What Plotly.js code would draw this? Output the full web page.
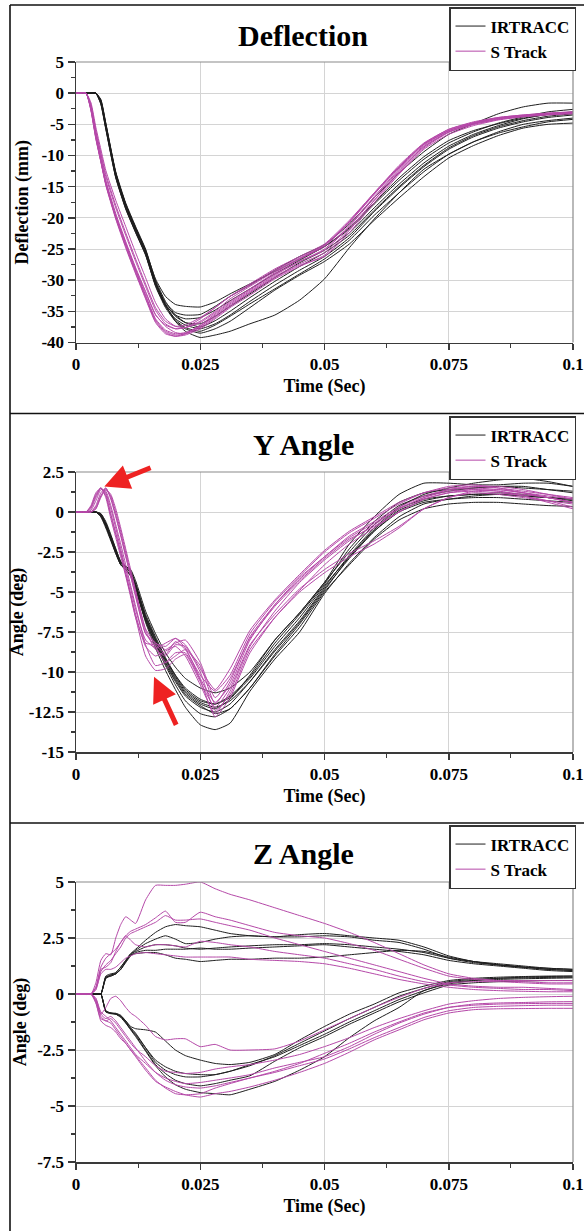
<!DOCTYPE html>
<html>
<head>
<meta charset="utf-8">
<script src="https://cdn.plot.ly/plotly-3.0.1.min.js"></script>
<style>
html,body{margin:0;padding:0;background:#fff;}
#chart{width:584px;height:1231px;}
</style>
</head>
<body>
<div id="chart"></div>
<script>
// ---------------- DATA ----------------
const SERIES_NAMES = ['IRTRACC', 'S Track'];
const PANEL_TITLES = ['Deflection', 'Y Angle', 'Z Angle'];
const Y_TITLES = ['Deflection (mm)', 'Angle (deg)', 'Angle (deg)'];
const X_TITLE = 'Time (Sec)';

const X_TICKS = [0, 0.025, 0.05, 0.075, 0.1];
const X_TICK_LABELS = ['0', '0.025', '0.05', '0.075', '0.1'];
const Y_TICKS_DEFL = [5, 0, -5, -10, -15, -20, -25, -30, -35, -40];
const Y_TICK_LABELS_DEFL = ['5', '0', '-5', '-10', '-15', '-20', '-25', '-30', '-35', '-40'];
const Y_TICKS_YANG = [2.5, 0, -2.5, -5, -7.5, -10, -12.5, -15];
const Y_TICK_LABELS_YANG = ['2.5', '0', '-2.5', '-5', '-7.5', '-10', '-12.5', '-15'];
const Y_TICKS_ZANG = [5, 2.5, 0, -2.5, -5, -7.5];
const Y_TICK_LABELS_ZANG = ['5', '2.5', '0', '-2.5', '-5', '-7.5'];

// Deflection (mm)
const TIME_DEFL = [0,0.002,0.003,0.004,0.005,0.006,0.008,0.010,0.012,0.014,0.016,0.018,0.020,0.022,0.025,0.028,0.031,0.035,0.040,0.045,0.050,0.055,0.060,0.065,0.070,0.075,0.080,0.085,0.090,0.095,0.100];
const deflIrtracc = [
  [0,0,0,0,-1.2,-5,-12.8,-17.8,-21.6,-25.2,-29.8,-32.6,-33.9,-34.2,-34.3,-33.5,-32.2,-30.6,-28.6,-26.6,-24.6,-21.6,-17.6,-13.6,-10.2,-7.6,-6,-4.9,-4,-3.4,-3.1],
  [0,0,0,0,-1.5,-5.4,-13.2,-18.2,-22,-25.6,-30.4,-33.6,-35.2,-35.6,-35.5,-34.2,-32.6,-30.8,-28.4,-26.2,-24.3,-21,-16.8,-12.8,-9.4,-6.6,-4.9,-3.3,-2.2,-1.6,-1.6],
  [0,0,0,0,-1.8,-5.8,-13.6,-18.6,-22.4,-26,-30.8,-34,-35.6,-36.2,-36,-34.8,-33.3,-31.4,-29,-26.8,-24.6,-21.8,-17.8,-14,-10.6,-8,-6.2,-4.8,-3.8,-3,-2.6],
  [0,0,0,0,-1.4,-5.2,-13,-18,-21.8,-25.4,-30.4,-33.8,-35.8,-36.8,-37,-35.8,-34.2,-32.2,-29.6,-27.2,-25.2,-22.4,-18.4,-14.6,-11.2,-8.5,-6.6,-5.2,-4.1,-3.4,-3],
  [0,0,0,0,-1,-4.8,-12.6,-17.6,-21.4,-25,-30,-33.4,-35.6,-36.8,-37.5,-36.5,-35,-32.8,-30.2,-27.8,-25.6,-22.8,-18.8,-15,-11.6,-8.8,-6.8,-5.4,-4.4,-3.7,-3.3],
  [0,0,0,0,-1.6,-5.6,-13.4,-18.4,-22.2,-25.8,-30.8,-34.2,-36.2,-37.2,-37.8,-37,-35.6,-33.4,-30.8,-28.4,-26.2,-23.2,-19,-15.2,-11.8,-9,-7,-5.6,-4.6,-3.9,-3.5],
  [0,0,0,0,-1.3,-5.2,-13,-18,-21.8,-25.4,-30.4,-34,-36.4,-37.6,-38.2,-37.2,-35.8,-33.8,-31.4,-29,-26.6,-23.6,-19.6,-16,-12.6,-9.8,-7.8,-6.2,-5,-4.4,-4],
  [0,0,0,0,-1.7,-5.7,-13.5,-18.5,-22.3,-25.9,-31,-34.4,-36.6,-37.8,-38.5,-37.8,-36.6,-34.4,-31.6,-29.2,-27,-24.2,-20.4,-16.8,-13.4,-10.4,-8.4,-6.8,-5.6,-5,-4.8],
  [0,0,0,0,-1.1,-4.9,-12.8,-17.8,-21.6,-25.2,-30.3,-34,-36.6,-38.2,-39.2,-38.8,-38.2,-37,-35.6,-33.2,-29.8,-24.8,-20.2,-16,-12.2,-9.8,-7.8,-6.4,-5.4,-4.6,-4.2]
];
const deflSTrack = [
  [0,0,-1.8,-6,-9.6,-13,-18,-22.4,-26.6,-30.6,-34.4,-36.6,-37.4,-37.2,-36,-34.4,-32.6,-30.6,-28.2,-26.2,-24.2,-20.4,-16,-11.6,-8,-5.8,-4.6,-3.9,-3.5,-3.2,-3],
  [0,0,-2.8,-7.4,-11,-14.6,-20,-24.4,-28.6,-32.6,-36.4,-38.2,-38.8,-38.6,-37.4,-35.6,-33.8,-31.8,-29.2,-27,-25,-21.2,-16.6,-12.2,-8.4,-6,-4.8,-4,-3.6,-3.3,-3.1],
  [0,0,-2.4,-6.8,-10.5,-14,-19.3,-23.8,-28,-31.8,-35.5,-37.4,-38.4,-38.6,-37.6,-36,-34.2,-32,-29.4,-27.4,-25.6,-21.8,-17.2,-12.8,-8.8,-6.3,-5,-4.2,-3.7,-3.4,-3.2],
  [0,0,-2.2,-6.6,-10.4,-14.2,-19.6,-24,-28.2,-32,-35.6,-37.2,-37.8,-37.6,-36.6,-35,-33,-31,-28.6,-26.6,-24.6,-20.8,-16.2,-12,-8.2,-6,-4.8,-4,-3.6,-3.3,-3.1],
  [0,0,-2.6,-7.2,-11,-14.8,-20.2,-24.8,-29,-33,-36.8,-38.6,-39,-38.6,-37.2,-35.4,-33.6,-31.6,-29,-27,-25.2,-21.4,-16.8,-12.4,-8.6,-6.2,-4.9,-4.1,-3.7,-3.4,-3.2],
  [0,0,-1.5,-5.5,-9,-12.4,-17.2,-21.4,-25.6,-29.6,-33.6,-36.2,-37.4,-37.6,-36.8,-35.2,-33.4,-31.4,-28.8,-26.6,-24.4,-20.6,-16.2,-11.8,-8.1,-5.8,-4.7,-3.9,-3.5,-3.2,-3],
  [0,0,-2.5,-7,-10.8,-14.5,-19.8,-24.2,-28.4,-32.4,-36.2,-38,-38.6,-38.4,-37.4,-35.8,-34,-32,-29.6,-27.6,-26.2,-22.4,-17.6,-13,-9,-6.6,-5.2,-4.3,-3.8,-3.5,-3.3],
  [0,0,-2,-6.2,-9.8,-13.4,-18.4,-22.8,-27,-31,-34.8,-37,-37.8,-37.6,-36.2,-34.4,-32.6,-30.8,-28.4,-26.4,-24.4,-20.6,-16,-11.8,-8.2,-6,-4.8,-4,-3.6,-3.3,-3.1],
  [0,0,-2.7,-7.2,-10.9,-14.6,-20,-24.6,-28.8,-32.8,-36.6,-38.4,-39,-38.8,-37.8,-36.2,-34.4,-32.4,-29.8,-27.8,-26,-22,-17.2,-12.6,-8.6,-6.2,-5,-4.2,-3.7,-3.4,-3.2]
];

// Y Angle (deg)
const TIME_Y = [0,0.002,0.003,0.004,0.005,0.006,0.007,0.008,0.009,0.010,0.011,0.012,0.014,0.016,0.018,0.020,0.022,0.025,0.028,0.031,0.035,0.040,0.045,0.050,0.055,0.060,0.065,0.070,0.075,0.080,0.085,0.090,0.095,0.100];
const yAngleIrtracc = [
  [0,0,0,0,-0.2,-0.8,-1.7,-2.6,-3.3,-3.6,-4.0,-4.8,-6.9,-8.5,-9.9,-11.1,-12.2,-13.3,-13.6,-13.2,-11.2,-9.2,-7.5,-5.1,-3.2,-1.6,-0.3,0.5,0.8,1.0,1.1,1.0,0.9,0.8],
  [0,0,0,0,-0.1,-0.6,-1.4,-2.3,-3.1,-3.4,-3.6,-4.3,-6.2,-7.6,-8.8,-9.7,-10.4,-11.0,-11.3,-11.0,-10.0,-8.0,-6.3,-4.4,-2.5,-0.8,0.4,1.0,1.3,1.5,1.6,1.5,1.4,1.3],
  [0,0,0,0,-0.2,-0.9,-1.7,-2.5,-3.2,-3.5,-3.8,-4.6,-6.6,-8.0,-9.3,-10.4,-11.3,-12.0,-12.3,-11.7,-10.2,-8.0,-6.3,-4.4,-2.0,-0.3,1.1,1.8,1.8,1.7,1.7,1.8,1.8,1.6],
  [0,0,0,0,-0.3,-1.0,-1.8,-2.6,-3.3,-3.6,-3.9,-4.8,-6.8,-8.2,-9.5,-10.6,-11.5,-12.2,-12.5,-12.0,-10.6,-8.6,-6.8,-4.7,-2.7,-1.0,0.3,1.1,1.5,1.8,2.0,2.1,1.9,1.6],
  [0,0,0,0,-0.2,-0.7,-1.5,-2.3,-3.1,-3.4,-3.7,-4.5,-6.5,-7.9,-9.2,-10.2,-11.0,-11.7,-12.0,-11.6,-10.4,-8.4,-6.6,-4.6,-2.8,-1.2,0.1,0.7,1.0,1.1,1.1,1.0,0.9,0.8],
  [0,0,0,0,-0.1,-0.7,-1.5,-2.4,-3.2,-3.5,-3.8,-4.7,-6.7,-8.1,-9.4,-10.5,-11.4,-12.1,-12.6,-12.3,-11.0,-9.0,-7.2,-5.0,-3.3,-1.7,-0.5,0.2,0.5,0.6,0.6,0.5,0.4,0.35],
  [0,0,0,0,-0.3,-0.9,-1.7,-2.5,-3.2,-3.5,-3.8,-4.6,-6.6,-8.0,-9.2,-10.3,-11.2,-11.9,-12.2,-11.8,-10.6,-8.7,-6.9,-4.8,-2.9,-1.2,0,0.6,0.8,0.9,0.9,0.8,0.7,0.6],
  [0,0,0,0,-0.2,-0.8,-1.6,-2.4,-3.1,-3.4,-3.7,-4.5,-6.4,-7.8,-9.1,-10.2,-11.1,-11.8,-12.0,-11.5,-10.3,-8.2,-6.4,-4.5,-2.3,-0.6,0.6,1.2,1.4,1.5,1.6,1.6,1.4,1.2],
  [0,0,0,0,-0.2,-0.8,-1.7,-2.5,-3.3,-3.6,-4.0,-4.8,-6.8,-8.3,-9.6,-10.8,-11.8,-12.6,-12.8,-12.3,-11.0,-8.9,-7.0,-4.9,-2.8,-1.1,0.2,0.8,1.0,1.1,1.2,1.1,0.9,0.7]
];
const yAngleSTrack = [
  [0,0,0.4,1.2,1.5,0.9,-0.4,-1.6,-2.8,-4.0,-5.3,-6.6,-8.2,-8.3,-8.9,-8.1,-8.6,-10.2,-11.2,-10.2,-7.6,-5.6,-4.0,-2.5,-1.3,-0.4,0.5,1.2,1.5,1.6,1.5,1.3,1.1,0.9],
  [0,0,0.3,1.1,1.5,1.0,-0.2,-1.4,-2.6,-3.9,-5.2,-6.6,-9.0,-9.9,-9.8,-9.2,-8.9,-10.6,-12.2,-11.0,-8.3,-6.4,-4.8,-3.6,-2.6,-1.8,-0.9,0.2,0.9,1.2,1.1,0.9,0.7,0.5],
  [0,0,0.2,0.9,1.5,1.2,0.2,-1.0,-2.3,-3.6,-4.8,-6.1,-8.0,-8.5,-8.2,-7.9,-8.5,-10.4,-11.9,-10.8,-8.0,-5.8,-4.1,-2.8,-1.5,-0.6,0.3,1.0,1.4,1.5,1.4,1.2,1.0,0.8],
  [0,0,0,0.3,1.0,1.4,1.0,0,-1.2,-2.5,-3.8,-5.0,-7.4,-8.6,-9.0,-8.3,-8.4,-10.0,-12.4,-11.4,-8.6,-6.6,-5.0,-3.8,-2.8,-2.0,-1.0,0.2,0.9,1.3,1.4,1.2,0.9,0.6],
  [0,0,0,0.4,1.2,1.5,0.8,-0.3,-1.5,-2.8,-4.0,-5.3,-7.6,-8.4,-9.4,-9.0,-8.6,-9.6,-12.0,-10.6,-7.8,-5.8,-4.2,-2.8,-1.6,-0.7,0.2,0.9,1.4,1.6,1.6,1.4,1.1,0.8],
  [0,0,0.1,0.7,1.4,1.3,0.4,-0.8,-2.0,-3.3,-4.6,-5.9,-8.3,-9.6,-9.4,-8.8,-8.8,-10.5,-12.8,-11.6,-8.8,-6.6,-4.9,-3.3,-2.0,-1.0,0,0.8,1.2,1.3,1.2,1.0,0.7,0.3],
  [0,0,0,0.2,0.9,1.4,1.1,0.2,-1.0,-2.3,-3.6,-4.9,-7.3,-8.2,-8.4,-7.9,-8.3,-9.8,-11.1,-9.8,-7.4,-5.5,-3.9,-2.4,-1.2,-0.3,0.6,1.2,1.6,1.7,1.5,1.2,0.9,0.6],
  [0,0,0.3,1.0,1.5,1.1,-0.1,-1.3,-2.5,-3.8,-5.1,-6.4,-8.4,-9.0,-8.7,-8.4,-9.0,-10.8,-12.6,-11.2,-8.4,-6.2,-4.4,-3.0,-1.8,-0.8,0.2,0.9,1.3,1.4,1.3,1.0,0.6,0.2],
  [0,0,0,0.2,1.0,1.5,0.9,-0.2,-1.4,-2.7,-4.0,-5.2,-7.6,-8.2,-8.6,-8.2,-8.0,-9.4,-11.6,-10.4,-7.9,-5.9,-4.3,-2.9,-1.7,-0.9,0.0,0.8,1.2,1.4,1.3,1.1,0.9,0.6]
];

// Z Angle (deg)
const TIME_Z = [0,0.003,0.004,0.005,0.006,0.007,0.008,0.009,0.010,0.011,0.012,0.014,0.016,0.018,0.020,0.022,0.025,0.028,0.031,0.035,0.040,0.045,0.050,0.055,0.060,0.065,0.070,0.075,0.080,0.085,0.090,0.095,0.100];
const zAngleIrtracc = [
  [0,0,0,0,0.75,0.85,0.95,1.2,1.5,1.8,2.0,2.4,2.75,3.0,3.1,3.05,3.0,2.85,2.7,2.6,2.55,2.55,2.6,2.55,2.4,2.3,2.0,1.6,1.4,1.3,1.2,1.1,1.05],
  [0,0,0,0,0.7,0.85,0.9,1.1,1.45,1.75,1.95,2.25,2.45,2.6,2.45,2.25,2.3,2.45,2.55,2.6,2.55,2.65,2.7,2.6,2.5,2.4,2.1,1.7,1.45,1.3,1.2,1.15,1.1],
  [0,0,0,0,0.8,0.9,0.95,1.2,1.5,1.8,1.9,2.1,2.2,2.2,2.15,2.05,2.0,2.05,2.1,2.15,2.2,2.2,2.25,2.2,2.1,2.0,1.85,1.6,1.45,1.35,1.25,1.15,1.1],
  [0,0,0,0,0.75,0.8,0.9,1.1,1.4,1.7,1.85,1.95,1.95,2.0,2.0,2.0,2.05,2.0,2.0,2.05,2.1,2.15,2.2,2.1,2.0,1.9,1.75,1.5,1.35,1.25,1.15,1.05,1.0],
  [0,0,0,0,0.7,0.8,0.9,1.1,1.45,1.75,1.8,1.85,1.85,1.75,1.6,1.55,1.45,1.5,1.55,1.55,1.6,1.6,1.65,1.75,1.85,1.95,1.9,1.65,1.45,1.3,1.2,1.1,1.05],
  [0,0,0,0,-0.75,-0.85,-0.86,-0.95,-1.2,-1.45,-1.55,-1.6,-1.7,-2.1,-2.5,-2.75,-2.95,-3.1,-3.15,-3.05,-2.7,-2.05,-1.45,-0.9,-0.45,0.05,0.35,0.6,0.7,0.75,0.78,0.8,0.8],
  [0,0,0,0,-0.8,-0.85,-0.9,-1.0,-1.25,-1.55,-1.8,-2.4,-2.95,-3.25,-3.45,-3.55,-3.6,-3.6,-3.45,-3.15,-2.8,-2.3,-1.8,-1.25,-0.75,-0.25,0.15,0.5,0.6,0.65,0.68,0.7,0.72],
  [0,0,0,0,-0.75,-0.85,-0.88,-0.98,-1.2,-1.5,-1.75,-2.4,-3.05,-3.4,-3.6,-3.7,-3.7,-3.6,-3.45,-3.2,-2.75,-2.2,-1.65,-1.1,-0.6,-0.1,0.25,0.55,0.65,0.7,0.72,0.74,0.75],
  [0,0,0,0,-0.8,-0.88,-0.9,-1.05,-1.3,-1.6,-1.9,-2.55,-3.2,-3.7,-4.05,-4.25,-4.4,-4.45,-4.5,-4.25,-3.9,-3.4,-2.8,-1.95,-1.2,-0.6,0.15,0.45,0.6,0.7,0.75,0.78,0.8],
  [0,0,0,0,-0.78,-0.86,-0.9,-1.0,-1.28,-1.58,-1.85,-2.5,-3.15,-3.55,-3.85,-4.0,-4.1,-4.0,-3.85,-3.65,-3.0,-2.4,-1.9,-1.35,-0.85,-0.35,0.05,0.4,0.5,0.55,0.58,0.6,0.6]
];
const zAngleSTrack = [
  [0,0,0.5,1.5,1.8,1.75,2.5,3.1,3.45,3.3,3.15,4.2,4.85,4.85,4.85,4.9,5.0,4.7,4.45,4.2,3.85,3.5,3.15,2.75,2.3,1.8,1.3,0.9,0.7,0.6,0.55,0.5,0.5],
  [0,0,0.3,1.2,1.6,1.8,2.0,2.3,2.6,2.8,2.9,3.1,3.4,3.7,3.2,3.2,3.65,3.45,3.3,3.05,2.75,2.6,2.5,2.25,1.95,1.55,1.15,0.8,0.65,0.6,0.6,0.6,0.6],
  [0,0,0.2,1.0,1.3,1.5,1.8,2.1,2.5,2.7,2.8,3.0,3.2,3.5,3.3,3.3,3.35,3.2,3.05,2.85,2.5,2.2,1.9,1.6,1.3,1.0,0.7,0.45,0.35,0.3,0.3,0.25,0.2],
  [0,0,0.3,1.1,1.2,1.4,1.9,2.3,2.6,2.4,2.2,2.1,2.2,2.2,2.15,2.1,2.35,2.3,2.2,2.1,1.9,1.75,1.6,1.35,1.1,0.8,0.55,0.4,0.3,0.25,0.2,0.2,0.15],
  [0,0,0.2,0.9,1.1,1.1,1.2,1.4,1.6,1.7,1.8,1.85,1.8,1.75,1.7,1.65,1.65,1.65,1.65,1.55,1.5,1.45,1.35,1.15,0.9,0.65,0.45,0.3,0.2,0.15,0.12,0.1,0.1],
  [0,0,-0.3,-0.9,-0.6,-0.2,-0.1,-0.3,-0.6,-0.85,-1.0,-1.4,-1.9,-2.05,-2.0,-2.0,-2.35,-2.25,-2.5,-2.5,-2.45,-2.1,-1.6,-1.1,-0.6,-0.15,0.25,0.5,0.55,0.55,0.5,0.45,0.45],
  [0,0,-0.3,-1.0,-1.2,-1.1,-1.3,-1.6,-1.9,-2.2,-2.45,-2.8,-3.2,-3.45,-3.5,-3.55,-3.5,-3.35,-3.25,-3.15,-2.95,-2.7,-2.35,-1.95,-1.5,-1.1,-0.75,-0.45,-0.3,-0.2,-0.15,-0.12,-0.1],
  [0,0,-0.2,-0.8,-1.0,-1.2,-1.5,-1.8,-2.1,-2.4,-2.7,-3.1,-3.5,-3.75,-3.9,-4.0,-3.95,-3.85,-3.75,-3.6,-3.3,-3.05,-2.8,-2.35,-1.8,-1.3,-0.9,-0.6,-0.45,-0.4,-0.38,-0.35,-0.34],
  [0,0,-0.4,-1.1,-1.2,-1.3,-1.6,-1.9,-2.2,-2.5,-2.8,-3.4,-3.9,-4.15,-4.35,-4.5,-4.6,-4.45,-4.35,-4.15,-3.85,-3.5,-3.1,-2.6,-2.05,-1.6,-1.15,-0.85,-0.7,-0.66,-0.65,-0.64,-0.64],
  [0,0,-0.2,-0.9,-1.1,-1.0,-1.2,-1.5,-1.8,-2.1,-2.4,-3.0,-3.5,-3.85,-4.05,-4.15,-4.2,-4.1,-3.95,-3.75,-3.45,-3.1,-2.65,-2.2,-1.7,-1.25,-0.85,-0.6,-0.5,-0.45,-0.43,-0.42,-0.42],
  [0,0,-0.4,-1.2,-1.4,-1.5,-1.7,-2.0,-2.2,-2.5,-2.75,-3.3,-3.85,-4.2,-4.45,-4.5,-4.45,-4.2,-4.0,-3.75,-3.5,-3.2,-2.9,-2.45,-1.95,-1.5,-1.05,-0.75,-0.6,-0.55,-0.52,-0.5,-0.5]
];

// ---------------- LAYOUT / STYLE ----------------
const W = 584, H = 1231;
const fx = p => p / W;
const fy = p => 1 - p / H;
const FONT = "'Liberation Serif', 'Times New Roman', serif";
const COLORS = ['#1e1e1e', '#b548a8'];

const panels = [
  {time: TIME_DEFL, series: [deflIrtracc, deflSTrack], range: [-40, 5], tv: Y_TICKS_DEFL, tt: Y_TICK_LABELS_DEFL, minor: 2.5,
   top: 62, bottom: 342.5, titleY: 35, legTop: 7, ystand: 8},
  {time: TIME_Y, series: [yAngleIrtracc, yAngleSTrack], range: [-15, 2.5], tv: Y_TICKS_YANG, tt: Y_TICK_LABELS_YANG, minor: 1.25,
   top: 472, bottom: 752, titleY: 444, legTop: 416, ystand: 0},
  {time: TIME_Z, series: [zAngleIrtracc, zAngleSTrack], range: [-7.5, 5], tv: Y_TICKS_ZANG, tt: Y_TICK_LABELS_ZANG, minor: 1.25,
   top: 882, bottom: 1162, titleY: 853, legTop: 825, ystand: 6}
];

const traces = [];
const layout = {
  width: W, height: H,
  margin: {l: 0, r: 0, t: 0, b: 0},
  paper_bgcolor: '#fff', plot_bgcolor: '#fff',
  showlegend: true,
  font: {family: FONT, color: '#000', weight: 'bold'},
  annotations: [], shapes: []
};

panels.forEach((p, i) => {
  const n = i === 0 ? '' : String(i + 1);
  const legName = 'legend' + n;
  p.series.forEach((group, s) => {
    group.forEach((vals, k) => {
      traces.push({
        type: 'scatter', mode: 'lines',
        x: p.time, y: vals,
        xaxis: 'x' + n, yaxis: 'y' + n,
        name: SERIES_NAMES[s],
        legend: legName,
        showlegend: k === 0,
        line: {color: COLORS[s], width: 1, shape: 'spline', smoothing: 0.5},
        hoverinfo: 'skip'
      });
    });
  });

  layout['xaxis' + n] = {
    domain: [fx(76), fx(573)], anchor: 'y' + n,
    range: [0, 0.1], tickmode: 'array', tickvals: X_TICKS, ticktext: X_TICK_LABELS,
    showgrid: true, gridcolor: '#d4d4d4', gridwidth: 1, zeroline: false,
    showline: true, linecolor: '#3a3a3a', linewidth: 1.5,
    ticks: 'outside', ticklen: 6, tickwidth: 1.5, tickcolor: '#3a3a3a',
    minor: {dtick: 0.0125, tick0: 0, ticks: 'outside', ticklen: 4, tickwidth: 1.2, tickcolor: '#3a3a3a', showgrid: false},
    tickfont: {family: FONT, size: 17, color: '#000', weight: 'bold'},
    title: {text: X_TITLE, font: {family: FONT, size: 18, color: '#000', weight: 'bold'}, standoff: 6},
    fixedrange: true
  };
  layout['yaxis' + n] = {
    domain: [fy(p.bottom), fy(p.top)], anchor: 'x' + n,
    range: p.range, tickmode: 'array', tickvals: p.tv, ticktext: p.tt,
    showgrid: true, gridcolor: '#d4d4d4', gridwidth: 1, zeroline: false,
    showline: true, linecolor: '#3a3a3a', linewidth: 1.5,
    ticks: 'outside', ticklen: 7, tickwidth: 1.5, tickcolor: '#3a3a3a',
    minor: {dtick: p.minor, tick0: 0, ticks: 'outside', ticklen: 4, tickwidth: 1.2, tickcolor: '#3a3a3a', showgrid: false},
    tickfont: {family: FONT, size: 17, color: '#000', weight: 'bold'},
    title: {text: Y_TITLES[i], font: {family: FONT, size: 18, color: '#000', weight: 'bold'}, standoff: p.ystand},
    fixedrange: true
  };

  layout[legName] = {
    x: fx(449), y: fy(p.legTop), xanchor: 'left', yanchor: 'top',
    bgcolor: '#fff', bordercolor: '#333', borderwidth: 1.5,
    font: {family: FONT, size: 17, color: '#000', weight: 'bold'},
    traceorder: 'normal', itemwidth: 30
  };

  layout.annotations.push({
    xref: 'paper', yref: 'paper', x: fx(303), y: fy(p.titleY),
    xanchor: 'center', yanchor: 'middle', showarrow: false,
    text: PANEL_TITLES[i],
    font: {family: FONT, size: 30, color: '#000', weight: 'bold'}
  });

  // grey plot-area frame on top and right
  layout.shapes.push(
    {type: 'line', xref: 'x' + n + ' domain', yref: 'y' + n + ' domain', x0: 0, x1: 1, y0: 1, y1: 1, line: {color: '#8a8a8a', width: 1.2}, layer: 'above'},
    {type: 'line', xref: 'x' + n + ' domain', yref: 'y' + n + ' domain', x0: 1, x1: 1, y0: 0, y1: 1, line: {color: '#8a8a8a', width: 1.2}, layer: 'above'}
  );
});

// outer panel frames
[5, 413.5, 823].forEach(yy => {
  layout.shapes.push({type: 'line', xref: 'paper', yref: 'paper', x0: fx(10), x1: 1.01, y0: fy(yy), y1: fy(yy), line: {color: '#111', width: 1.6}});
});
layout.shapes.push({type: 'line', xref: 'paper', yref: 'paper', x0: fx(10), x1: fx(10), y0: fy(5), y1: 0, line: {color: '#111', width: 1.6}});

// red arrows in Y Angle panel
layout.annotations.push(
  {xref: 'x2', yref: 'y2', axref: 'x2', ayref: 'y2', x: 0.0057, y: 1.6, ax: 0.0153, ay: 2.8,
   showarrow: true, arrowhead: 2, arrowsize: 1, arrowwidth: 5, arrowcolor: '#ee2222', text: ''},
  {xref: 'x2', yref: 'y2', axref: 'x2', ayref: 'y2', x: 0.0157, y: -10.3, ax: 0.0203, ay: -13.4,
   showarrow: true, arrowhead: 2, arrowsize: 1, arrowwidth: 5, arrowcolor: '#ee2222', text: ''}
);

Plotly.newPlot('chart', traces, layout, {staticPlot: true, displayModeBar: false});
</script>
</body>
</html>
